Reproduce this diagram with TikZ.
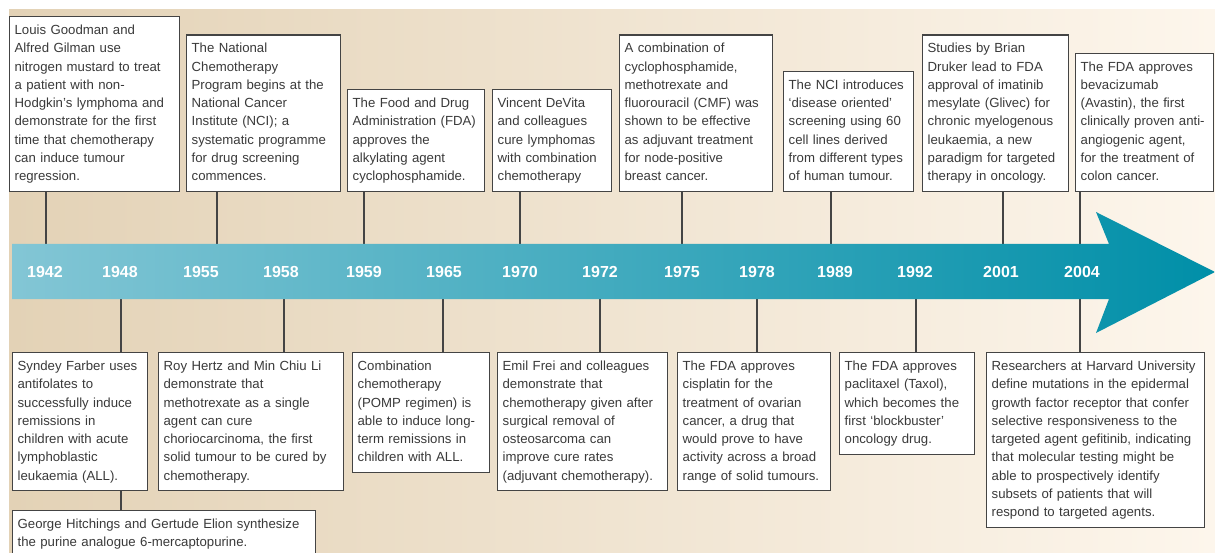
\documentclass[tikz,border=0pt]{standalone}
\usepackage{fontspec}
\setmainfont{Liberation Sans}
\definecolor{bgL}{HTML}{E3D2B6}
\definecolor{bgR}{HTML}{FDF6EC}
\definecolor{bandL}{HTML}{83C6D5}
\definecolor{bandM}{HTML}{10A8C2}
\definecolor{bandR}{HTML}{008FA8}
\definecolor{boxline}{HTML}{444444}
\definecolor{txt}{HTML}{3A3A3A}
\tikzset{
  evt/.style={draw=boxline, line width=1.3pt, fill=white, inner xsep=5pt, inner ysep=5pt,
    align=left, font=\fontsize{13.2}{18.3}\selectfont, text=txt,
    execute at begin node=\strut, execute at end node=\strut},
  up/.style={evt, anchor=south west},
  down/.style={evt, anchor=north west},
  yr/.style={text=white, font=\fontsize{16}{16}\selectfont\bfseries},
  conn/.style={draw=boxline, line width=1.2pt},
}
\begin{document}
\begin{tikzpicture}[x=1pt,y=-1pt]
\useasboundingbox (0,0) rectangle (1215,553);
\fill[white] (0,0) rectangle (1215,553);
\fill[left color=bgL, right color=bgR] (9,10) rectangle (1215,553);

% top boxes
\node[up, text width=160pt] (g42) at (9,192) {Louis Goodman and\\Alfred Gilman use\\nitrogen mustard to treat\\a patient with non-\\Hodgkin's lymphoma and\\demonstrate for the first\\time that chemotherapy\\can induce tumour\\regression.};
\node[up, text width=144pt] (n55) at (186,192) {The National\\Chemotherapy\\Program begins at the\\National Cancer\\Institute (NCI); a\\systematic programme\\for drug screening\\commences.};
\node[up, text width=127pt] (f59) at (347,192) {The Food and Drug\\Administration (FDA)\\approves the\\alkylating agent\\cyclophosphamide.};
\node[up, text width=109pt] (d70) at (492,192) {Vincent DeVita\\and colleagues\\cure lymphomas\\with combination\\chemotherapy};
\node[up, text width=143pt] (c75) at (619,192) {A combination of\\cyclophosphamide,\\methotrexate and\\fluorouracil (CMF) was\\shown to be effective\\as adjuvant treatment\\for node-positive\\breast cancer.};
\node[up, text width=120pt] (n89) at (783,192) {The NCI introduces\\‘disease oriented’\\screening using 60\\cell lines derived\\from different types\\of human tumour.};
\node[up, text width=136pt] (d01) at (922,192) {Studies by Brian\\Druker lead to FDA\\approval of imatinib\\mesylate (Glivec) for\\chronic myelogenous\\leukaemia, a new\\paradigm for targeted\\therapy in oncology.};
\node[up, text width=128pt] (a04) at (1075,192) {The FDA approves\\bevacizumab\\(Avastin), the first\\clinically proven anti-\\angiogenic agent,\\for the treatment of\\colon cancer.};

% bottom boxes
\node[down, text width=125pt] (f48) at (12,352) {Syndey Farber uses\\antifolates to\\successfully induce\\remissions in\\children with acute\\lymphoblastic\\leukaemia (ALL).};
\node[down, text width=293pt] (hi48) at (12,510) {George Hitchings and Gertude Elion synthesize\\the purine analogue 6-mercaptopurine.};
\node[down, text width=175pt] (h58) at (158,352) {Roy Hertz and Min Chiu Li\\demonstrate that\\methotrexate as a single\\agent can cure\\choriocarcinoma, the first\\solid tumour to be cured by\\chemotherapy.};
\node[down, text width=127pt] (p65) at (352,352) {Combination\\chemotherapy\\(POMP regimen) is\\able to induce long-\\term remissions in\\children with ALL.};
\node[down, text width=160pt] (e72) at (497,352) {Emil Frei and colleagues\\demonstrate that\\chemotherapy given after\\surgical removal of\\osteosarcoma can\\improve cure rates\\(adjuvant chemotherapy).};
\node[down, text width=143pt] (c78) at (677,352) {The FDA approves\\cisplatin for the\\treatment of ovarian\\cancer, a drug that\\would prove to have\\activity across a broad\\range of solid tumours.};
\node[down, text width=125pt] (p92) at (839,352) {The FDA approves\\paclitaxel (Taxol),\\which becomes the\\first ‘blockbuster’\\oncology drug.};
\node[down, text width=208pt] (h04) at (986,352) {Researchers at Harvard University\\define mutations in the epidermal\\growth factor receptor that confer\\selective responsiveness to the\\targeted agent gefitinib, indicating\\that molecular testing might be\\able to prospectively identify\\subsets of patients that will\\respond to targeted agents.};

% tick coordinates on the band
\coordinate (t42) at (46,244);
\coordinate (t55) at (217,244);
\coordinate (t59) at (364,244);
\coordinate (t70) at (520,244);
\coordinate (t75) at (682,244);
\coordinate (t89) at (831,244);
\coordinate (t01) at (1003,244);
\coordinate (t04) at (1080,244);
\coordinate (b48) at (121,299);
\coordinate (b58) at (284,299);
\coordinate (b65) at (443,299);
\coordinate (b72) at (600,299);
\coordinate (b78) at (757,299);
\coordinate (b92) at (916,299);
\coordinate (b04) at (1080,299);

% connectors
\foreach \n/\t in {g42/t42,n55/t55,f59/t59,d70/t70,c75/t75,n89/t89,d01/t01,a04/t04}
  \draw[conn] (\n.south -| \t) -- (\t);
\foreach \n/\t in {f48/b48,h58/b58,p65/b65,e72/b72,c78/b78,p92/b92,h04/b04}
  \draw[conn] (\t) -- (\t |- \n.north);
\draw[conn] (f48.south -| b48) -- (b48 |- hi48.north);

% timeline arrow
\path[left color=bandL, middle color=bandM, right color=bandR]
  (12,244) -- (1109,244) -- (1096,212) -- (1215,272) -- (1096,333) -- (1109,299) -- (12,299) -- cycle;

% years
\foreach \x/\y in {45/1942,120/1948,201/1955,281/1958,364/1959,444/1965,520/1970,600/1972,682/1975,757/1978,835/1989,915/1992,1001/2001,1082/2004}
  \node[yr] (y\y) at (\x,272) {\y};
\end{tikzpicture}
\end{document}
